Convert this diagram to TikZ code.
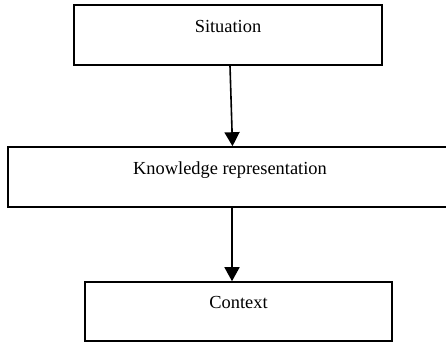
\documentclass[tikz,border=0pt]{standalone}
\usepackage{fontspec}
\setmainfont{Liberation Serif}
\usetikzlibrary{arrows.meta}
\begin{document}
\begin{tikzpicture}[x=1pt,y=-1pt,
  box/.style={draw=black,line width=1.6pt,fill=white,rectangle,inner sep=0pt},
  lbl/.style={anchor=base,inner sep=0pt,font=\fontsize{18.4}{22}\selectfont},
  conn/.style={line width=1.6pt,-{Triangle[length=14pt,width=15pt]}}]
\useasboundingbox[fill=white] (0,0) rectangle (446,343);
\node[box,minimum width=308pt,minimum height=60pt] (b1) at (228,35) {};
\node[box,minimum width=445pt,minimum height=60pt] (b2) at (230.5,177) {};
\node[box,minimum width=307pt,minimum height=59pt] (b3) at (238.5,311.5) {};
\node[lbl] (t1) at ([yshift=-28pt]b1.north) {Situation};
\node[lbl] (t2) at ([yshift=-28pt,xshift=-0.5pt]b2.north) {Knowledge representation};
\node[lbl] (t3) at ([yshift=-27pt]b3.north) {Context};
\draw[conn] ([xshift=2pt]b1.south) -- ([xshift=2pt]b2.north);
\draw[conn] ([xshift=1.5pt]b2.south) -- ([xshift=-6.5pt]b3.north);
\end{tikzpicture}
\end{document}
